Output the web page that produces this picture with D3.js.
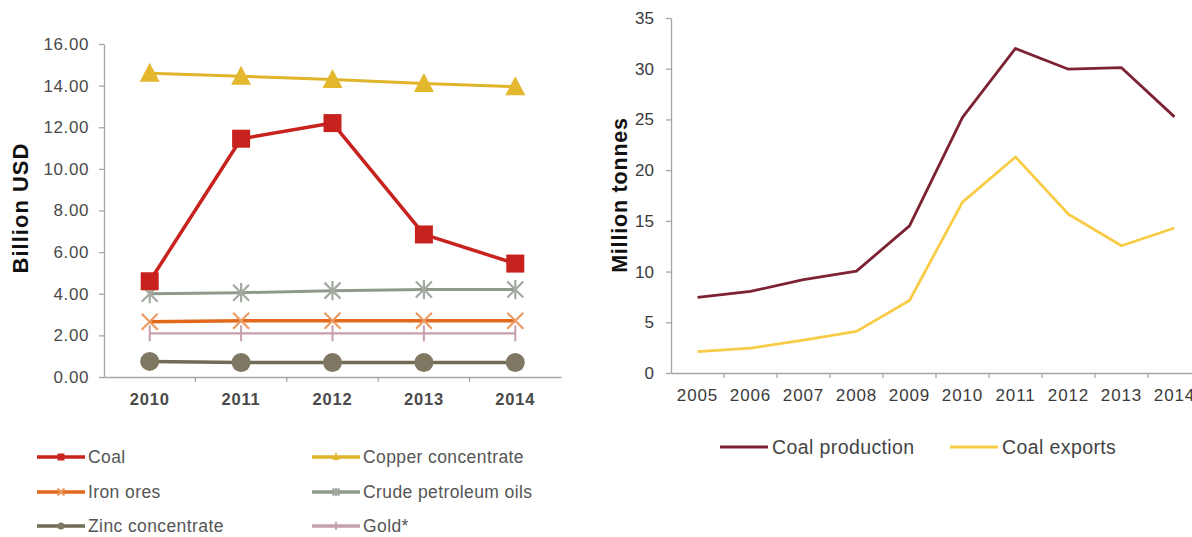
<!DOCTYPE html>
<html>
<head>
<meta charset="utf-8">
<script src="https://cdn.jsdelivr.net/npm/d3@7"></script>
<style>
  html, body { margin: 0; padding: 0; background: #ffffff; }
  svg { display: block; font-family: "Liberation Sans", Arial, sans-serif; }
</style>
</head>
<body>
<svg id="chart" width="1192" height="537"></svg>
<script>
// Exports by commodity, billion USD
const exportYears = ["2010", "2011", "2012", "2013", "2014"];
const coalExports = [4.6, 11.45, 12.2, 6.85, 5.45];
const copperExports = [14.6, 14.45, 14.3, 14.1, 13.95];
const ironExports = [2.65, 2.7, 2.7, 2.7, 2.7];
const crudeExports = [4.0, 4.05, 4.15, 4.2, 4.2];
const zincExports = [0.75, 0.7, 0.7, 0.7, 0.7];
const goldExports = [2.1, 2.1, 2.1, 2.1, 2.1];
const usdTicks = [0, 2, 4, 6, 8, 10, 12, 14, 16];

// Coal output and shipments, million tonnes
const coalYears = ["2005", "2006", "2007", "2008", "2009", "2010", "2011", "2012", "2013", "2014"];
const coalProduction = [7.45, 8.05, 9.2, 10.05, 14.5, 25.2, 32.0, 29.95, 30.1, 25.25];
const coalShipments = [2.1, 2.45, 3.25, 4.1, 7.15, 16.85, 21.3, 15.65, 12.55, 14.3];
const tonneTicks = [0, 5, 10, 15, 20, 25, 30, 35];

const svg = d3.select("#chart");
const axisColor = "#a6a6a6";

function styleAxis(g) {
  g.selectAll("path.domain").attr("stroke", axisColor).attr("stroke-width", 1.3);
  g.selectAll(".tick line").attr("stroke", axisColor).attr("stroke-width", 1.3);
}

// ---------- Left panel: commodity exports ----------
const xL = d3.scaleBand().domain(exportYears).range([104, 561]);
const yL = d3.scaleLinear().domain([0, 16]).range([377, 44]);

const gxL = svg.append("g").attr("transform", "translate(0,377)")
  .call(d3.axisBottom(xL).tickSize(0).tickSizeOuter(0).tickPadding(16));
gxL.selectAll("text").attr("font-size", 16.5).attr("font-weight", "bold").attr("fill", "#4a4a4a").style("letter-spacing", "0.8px");
styleAxis(gxL);
// tick marks between year groups
gxL.selectAll("line.sep").data(exportYears.slice(1)).enter().append("line").attr("class", "sep")
  .attr("x1", d => xL(d)).attr("x2", d => xL(d)).attr("y1", 0).attr("y2", 5)
  .attr("stroke", axisColor).attr("stroke-width", 1.3);

const gyL = svg.append("g").attr("transform", "translate(104,0)")
  .call(d3.axisLeft(yL).tickValues(usdTicks).tickFormat(d3.format(".2f")).tickSize(5).tickSizeOuter(0).tickPadding(10));
gyL.selectAll("text").attr("font-size", 17).attr("fill", "#4a4a4a").style("letter-spacing", "0.6px");
styleAxis(gyL);

svg.append("text")
  .attr("transform", "translate(28,208) rotate(-90)")
  .attr("text-anchor", "middle")
  .attr("font-size", 22).attr("font-weight", "bold").attr("fill", "#111")
  .style("letter-spacing", "1px")
  .text("Billion USD");

const cx = (i) => xL(exportYears[i]) + xL.bandwidth() / 2;

// marker painters
function drawMarker(g, type, x, y, color, s) {
  if (type === "square") {
    g.append("rect").attr("x", x - s / 2).attr("y", y - s / 2).attr("width", s).attr("height", s).attr("fill", color);
  } else if (type === "triangle") {
    const h = s * 0.85;
    g.append("path").attr("d", `M${x},${y - h / 2 - 2}L${x + s / 2},${y + h / 2}L${x - s / 2},${y + h / 2}Z`).attr("fill", color);
  } else if (type === "cross") {
    const r = s / 2;
    g.append("path").attr("d", `M${x - r},${y - r}L${x + r},${y + r}M${x - r},${y + r}L${x + r},${y - r}`)
      .attr("stroke", color).attr("stroke-width", 2.2).attr("fill", "none");
  } else if (type === "star") {
    const r = s / 2;
    g.append("path").attr("d", `M${x - r},${y - r}L${x + r},${y + r}M${x - r},${y + r}L${x + r},${y - r}M${x},${y - r * 1.2}L${x},${y + r * 1.2}`)
      .attr("stroke", color).attr("stroke-width", 2.2).attr("fill", "none");
  } else if (type === "circle") {
    g.append("circle").attr("cx", x).attr("cy", y).attr("r", s / 2).attr("fill", color);
  } else if (type === "plus") {
    g.append("path").attr("d", `M${x},${y - s / 2}L${x},${y + s / 2}`)
      .attr("stroke", color).attr("stroke-width", 2).attr("fill", "none");
  }
}

const commodities = [
  { name: "Crude petroleum oils", values: crudeExports, color: "#8f9a8b", mark: "#a3aaa0", marker: "star", size: 16, width: 3 },
  { name: "Iron ores", values: ironExports, color: "#e2691b", mark: "#eb9a62", marker: "cross", size: 16, width: 3.5 },
  { name: "Gold*", values: goldExports, color: "#c6a0ad", mark: "#c6a0ad", marker: "plus", size: 16, width: 2.2 },
  { name: "Zinc concentrate", values: zincExports, color: "#716c55", mark: "#7e7862", marker: "circle", size: 19, width: 3.5 },
  { name: "Copper concentrate", values: copperExports, color: "#e0b52c", mark: "#e3b82f", marker: "triangle", size: 20, width: 3 },
  { name: "Coal", values: coalExports, color: "#c8221e", mark: "#c8221e", marker: "square", size: 18, width: 3.5 }
];

const lineL = d3.line().x((d, i) => cx(i)).y(d => yL(d));
commodities.forEach(c => {
  const g = svg.append("g");
  g.append("path").datum(c.values).attr("d", lineL)
    .attr("fill", "none").attr("stroke", c.color).attr("stroke-width", c.width).attr("stroke-linejoin", "round");
  c.values.forEach((v, i) => drawMarker(g, c.marker, cx(i), yL(v), c.mark, c.size));
});

// legend, two columns
const legendOrder = ["Coal", "Copper concentrate", "Iron ores", "Crude petroleum oils", "Zinc concentrate", "Gold*"];
const legendCols = [37, 312];
const legendRows = [457, 492, 526];
legendOrder.forEach((name, k) => {
  const c = commodities.find(d => d.name === name);
  const x0 = legendCols[k % 2];
  const y0 = legendRows[Math.floor(k / 2)];
  const g = svg.append("g");
  g.append("line").attr("x1", x0).attr("x2", x0 + 48).attr("y1", y0).attr("y2", y0)
    .attr("stroke", c.color).attr("stroke-width", 3.5);
  drawMarker(g, c.marker, x0 + 24, y0, c.mark, c.marker === "plus" ? 8 : 7);
  g.append("text").attr("x", x0 + 51).attr("y", y0 + 6)
    .attr("font-size", 17.5).attr("fill", "#555").style("letter-spacing", "0.4px").text(name);
});

// ---------- Right panel: coal production and exports ----------
const xR = d3.scaleBand().domain(coalYears).range([671, 1201]);
const yR = d3.scaleLinear().domain([0, 35]).range([373, 18]);

const gxR = svg.append("g").attr("transform", "translate(0,373)")
  .call(d3.axisBottom(xR).tickSize(0).tickSizeOuter(0).tickPadding(16));
gxR.selectAll("text").attr("font-size", 17).attr("fill", "#3a3a3a").style("letter-spacing", "0.9px");
styleAxis(gxR);
gxR.selectAll("line.sep").data(coalYears.slice(1)).enter().append("line").attr("class", "sep")
  .attr("x1", d => xR(d)).attr("x2", d => xR(d)).attr("y1", 0).attr("y2", 5)
  .attr("stroke", axisColor).attr("stroke-width", 1.3);

const gyR = svg.append("g").attr("transform", "translate(671,0)")
  .call(d3.axisLeft(yR).tickValues(tonneTicks).tickSize(5).tickSizeOuter(0).tickPadding(12));
gyR.selectAll("text").attr("font-size", 17).attr("fill", "#3a3a3a");
styleAxis(gyR);

svg.append("text")
  .attr("transform", "translate(627,195) rotate(-90)")
  .attr("text-anchor", "middle")
  .attr("font-size", 21.5).attr("font-weight", "bold").attr("fill", "#111")
  .style("letter-spacing", "0.8px")
  .text("Million tonnes");

const cxR = (i) => xR(coalYears[i]) + xR.bandwidth() / 2;
const lineR = d3.line().x((d, i) => cxR(i)).y(d => yR(d));

const coalSeries = [
  { name: "Coal production", values: coalProduction, color: "#7c2232" },
  { name: "Coal exports", values: coalShipments, color: "#f8cc47" }
];
coalSeries.forEach(s => {
  svg.append("path").datum(s.values).attr("d", lineR)
    .attr("fill", "none").attr("stroke", s.color).attr("stroke-width", 2.8).attr("stroke-linejoin", "round");
});

const legendR = [{ x: 720, s: coalSeries[0] }, { x: 950, s: coalSeries[1] }];
legendR.forEach(l => {
  svg.append("line").attr("x1", l.x).attr("x2", l.x + 48).attr("y1", 447).attr("y2", 447)
    .attr("stroke", l.s.color).attr("stroke-width", 3);
  svg.append("text").attr("x", l.x + 52).attr("y", 453.5)
    .attr("font-size", 19.5).attr("fill", "#444").style("letter-spacing", "0.4px").text(l.s.name);
});
</script>
</body>
</html>
